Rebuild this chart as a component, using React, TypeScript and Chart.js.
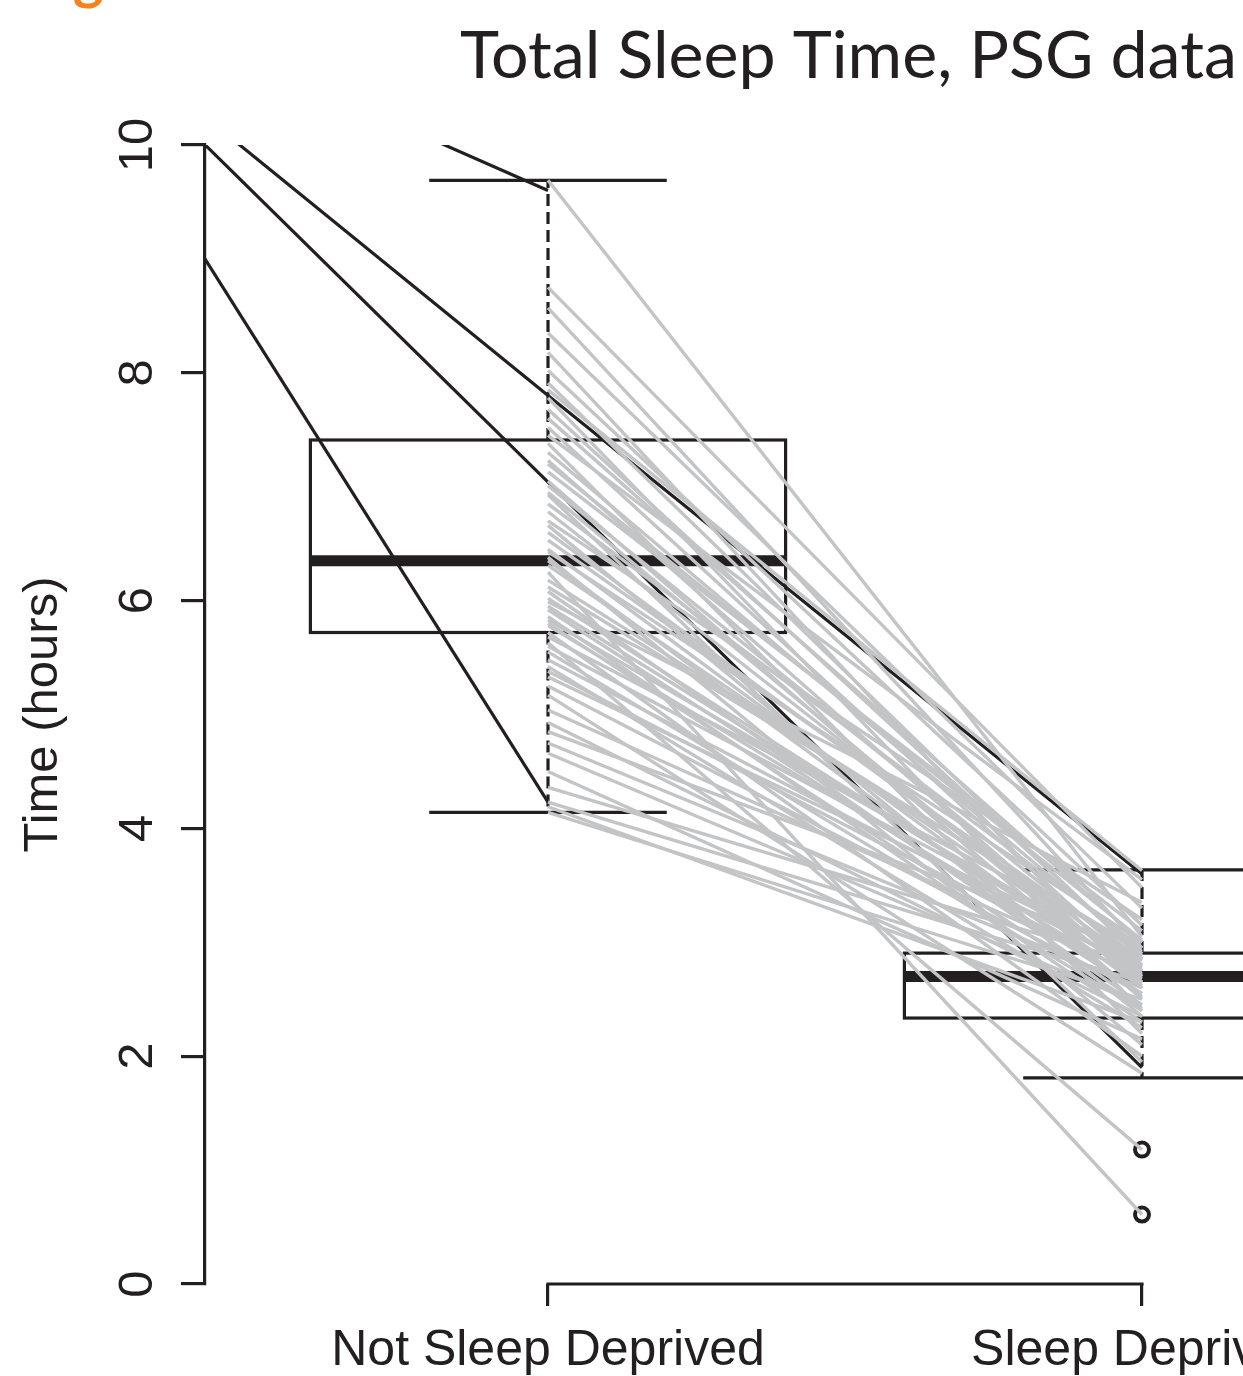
import React, { useEffect, useRef } from "react";
import { Chart, registerables } from "chart.js";

Chart.register(...registerables);

// ---- data ----
const categories = ["Not Sleep Deprived", "Sleep Deprived"];
const yTickValues = [0, 2, 4, 6, 8, 10];
const chartTitle = "Total Sleep Time, PSG data";
const yAxisTitle = "Time (hours)";
const headerText = "Figure 1";

// box-plot statistics per category (hours)
const boxLowerWhisker = [4.14, 1.81];
const boxQ1 = [5.72, 2.335];
const boxMedian = [6.35, 2.7];
const boxQ3 = [7.41, 2.905];
const boxUpperWhisker = [9.69, 3.635];
const boxOutliers: number[][] = [[], [1.18, 0.61]];

// paired subjects (grey lines): value when not deprived -> when deprived
const notDeprived = [
  9.69, 8.75, 8.57, 8.35, 8.18, 8.02, 7.91, 7.85, 7.78, 7.6, 7.52, 7.45, 7.38, 7.3,
  7.23, 7.13, 7.05, 7.01, 6.93, 6.85, 6.78, 6.7, 6.66, 6.53, 6.45, 6.43, 6.38, 6.31,
  6.25, 6.18, 6.08, 6.02, 5.99, 5.92, 5.86, 5.83, 5.78, 5.72, 5.68, 5.63, 5.55, 5.48,
  5.42, 5.33, 5.25, 5.17, 5.04, 4.93, 4.85, 4.75, 4.66, 4.5, 4.36, 4.23, 4.19, 4.14,
  7.68, 7.2, 6.95, 6.6, 6.35, 6.12, 5.95, 5.8, 5.6, 5.38,
];
const deprived = [
  3.05, 3.48, 2.95, 3.3, 2.6, 3.15, 2.85, 3.63, 2.4, 3.0, 2.75, 3.55, 2.2, 2.9,
  2.65, 3.1, 2.5, 2.8, 1.95, 2.95, 2.7, 3.2, 2.35, 2.85, 2.6, 3.0, 2.1, 2.75,
  0.61, 2.9, 2.45, 2.7, 3.35, 2.55, 2.3, 2.8, 2.65, 2.0, 2.95, 1.18, 2.4, 2.75,
  2.25, 2.85, 2.55, 1.85, 2.7, 2.35, 2.9, 2.6, 2.45, 2.15, 2.8, 2.65, 2.3, 2.5,
  2.88, 3.02, 2.62, 2.78, 2.52, 2.92, 2.72, 2.42, 2.84, 2.68,
];

// black lines entering from the left (position 0 is outside the plot)
const blackLeadIn = [12.17, 12.49, 12.04, 11.9];
const blackNotDeprived = [7.04, 4.23, 7.8, 9.6];
const blackDeprived: (number | null)[] = [1.9, null, 3.6, null];

// ---- styles ----
const INK = "#231f20";
const GREY = "#c3c4c6";
const ORANGE = "#f58220";
const AXIS_FONT = "'Liberation Sans', Arial, sans-serif";

const W = 1243;
const H = 1376;

const boxPlugin = {
  id: "boxplotDraw",
  beforeDatasetsDraw(chart: any) {
    const { ctx, chartArea, scales } = chart;
    const x = scales.x;
    const y = scales.y;
    ctx.save();
    ctx.beginPath();
    ctx.rect(chartArea.left, chartArea.top - 3, chartArea.right - chartArea.left, chartArea.bottom - chartArea.top + 6);
    ctx.clip();
    ctx.strokeStyle = INK;
    ctx.lineCap = "butt";
    const seg = (x1: number, y1: number, x2: number, y2: number) => {
      ctx.beginPath();
      ctx.moveTo(x1, y1);
      ctx.lineTo(x2, y2);
      ctx.stroke();
    };
    categories.forEach((_, i) => {
      const xv = i + 1;
      const xc = x.getPixelForValue(xv);
      const xl = x.getPixelForValue(xv - 0.4);
      const xr = x.getPixelForValue(xv + 0.4);
      const cl = x.getPixelForValue(xv - 0.2);
      const cr = x.getPixelForValue(xv + 0.2);
      const ylo = y.getPixelForValue(boxLowerWhisker[i]);
      const yq1 = y.getPixelForValue(boxQ1[i]);
      const ymed = y.getPixelForValue(boxMedian[i]);
      const yq3 = y.getPixelForValue(boxQ3[i]);
      const yhi = y.getPixelForValue(boxUpperWhisker[i]);
      ctx.lineWidth = 3.2;
      ctx.setLineDash([12, 6]);
      seg(xc, yq3, xc, yhi);
      seg(xc, yq1, xc, ylo);
      ctx.setLineDash([]);
      seg(cl, yhi, cr, yhi);
      seg(cl, ylo, cr, ylo);
      ctx.strokeRect(xl, yq3, xr - xl, yq1 - yq3);
      ctx.lineWidth = 11;
      seg(xl, ymed, xr, ymed);
      ctx.lineWidth = 4;
      boxOutliers[i].forEach((v) => {
        ctx.beginPath();
        ctx.arc(xc, y.getPixelForValue(v), 7, 0, Math.PI * 2);
        ctx.stroke();
      });
    });
    ctx.restore();

    // x axis line between the first and last category ticks
    ctx.save();
    ctx.strokeStyle = INK;
    ctx.lineWidth = 3.2;
    ctx.beginPath();
    ctx.moveTo(x.getPixelForValue(1) - 1.6, chartArea.bottom);
    ctx.lineTo(x.getPixelForValue(categories.length) + 1.6, chartArea.bottom);
    ctx.stroke();
    ctx.restore();
  },
  afterDraw(chart: any) {
    const { ctx, chartArea, scales } = chart;
    const y = scales.y;
    ctx.save();
    // rotated y tick labels (R style)
    ctx.fillStyle = INK;
    ctx.font = `49px ${AXIS_FONT}`;
    ctx.textAlign = "center";
    ctx.textBaseline = "alphabetic";
    y.ticks.forEach((t: any) => {
      const py = y.getPixelForValue(t.value);
      ctx.save();
      ctx.translate(chartArea.left - 53, py);
      ctx.rotate(-Math.PI / 2);
      ctx.fillText(String(t.value), 0, 0);
      ctx.restore();
    });
    // title
    ctx.font = `400 64px Lato, 'Open Sans', sans-serif`;
    const mw = ctx.measureText(chartTitle).width;
    const size = (64 * 777) / mw;
    ctx.font = `400 ${size}px Lato, 'Open Sans', sans-serif`;
    ctx.textAlign = "left";
    ctx.fillText(chartTitle, 460, 78);
    // cut-off orange header
    ctx.fillStyle = ORANGE;
    ctx.font = `bold 58px Lato, sans-serif`;
    const wFi = ctx.measureText("Fi").width;
    ctx.fillText(headerText, 73 - wFi, -2);
    ctx.restore();
  },
};

export default function App() {
  const ref = useRef<HTMLCanvasElement | null>(null);
  useEffect(() => {
    document.body.style.margin = "0";
    document.body.style.overflow = "hidden";
    if (!ref.current) return;
    const greySets = notDeprived.map((v, i) => ({
      data: [
        { x: 1, y: v },
        { x: 2, y: deprived[i] },
      ],
      borderColor: GREY,
      borderWidth: 3.4,
      pointRadius: 0,
      fill: false,
      tension: 0,
    }));
    const blackSets = blackLeadIn.map((v, i) => {
      const pts: any[] = [
        { x: 0, y: v },
        { x: 1, y: blackNotDeprived[i] },
      ];
      if (blackDeprived[i] !== null) pts.push({ x: 2, y: blackDeprived[i] });
      return {
        data: pts,
        borderColor: INK,
        borderWidth: 3.2,
        pointRadius: 0,
        fill: false,
        tension: 0,
      };
    });
    const xMin = 1 - 343 / 594;
    const xMax = 1 + (W - 548) / 594;
    const chart = new Chart(ref.current, {
      type: "line",
      data: { datasets: [...greySets, ...blackSets] as any },
      plugins: [boxPlugin],
      options: {
        animation: false,
        responsive: false,
        devicePixelRatio: 1,
        events: [],
        layout: { padding: { top: 145, left: 0, right: 0, bottom: 0 } },
        plugins: {
          legend: { display: false },
          tooltip: { enabled: false },
          title: { display: false },
        },
        scales: {
          x: {
            type: "linear",
            min: xMin,
            max: xMax,
            afterBuildTicks: (s: any) => {
              s.ticks = categories.map((_, i) => ({ value: i + 1 }));
            },
            afterFit: (s: any) => {
              s.height = H - 1284;
              s.paddingLeft = 0;
              s.paddingRight = 0;
            },
            grid: {
              drawOnChartArea: false,
              drawTicks: true,
              tickLength: 22,
              color: INK,
              lineWidth: 3.2,
            },
            border: { display: false },
            ticks: {
              autoSkip: false,
              maxRotation: 0,
              minRotation: 0,
              padding: 15,
              color: INK,
              font: { family: AXIS_FONT, size: 50 },
              callback: (v: any) => categories[Math.round(v) - 1] ?? "",
            },
          },
          y: {
            min: 0,
            max: 10,
            afterBuildTicks: (s: any) => {
              s.ticks = yTickValues.map((v) => ({ value: v }));
            },
            afterFit: (s: any) => {
              s.width = 205;
              s.paddingTop = 0;
              s.paddingBottom = 0;
            },
            grid: {
              drawOnChartArea: false,
              drawTicks: true,
              tickLength: 24,
              color: INK,
              lineWidth: 3.2,
            },
            border: { display: true, color: INK, width: 3.2 },
            ticks: { display: false },
            title: {
              display: true,
              text: yAxisTitle,
              color: INK,
              font: { family: AXIS_FONT, size: 49 },
              padding: { top: 14, bottom: 0 },
            },
          },
        },
      },
    });
    return () => chart.destroy();
  }, []);
  return (
    <div style={{ width: W, height: H, overflow: "hidden" }}>
      <canvas ref={ref} width={W} height={H} style={{ display: "block", width: W, height: H }} />
    </div>
  );
}
